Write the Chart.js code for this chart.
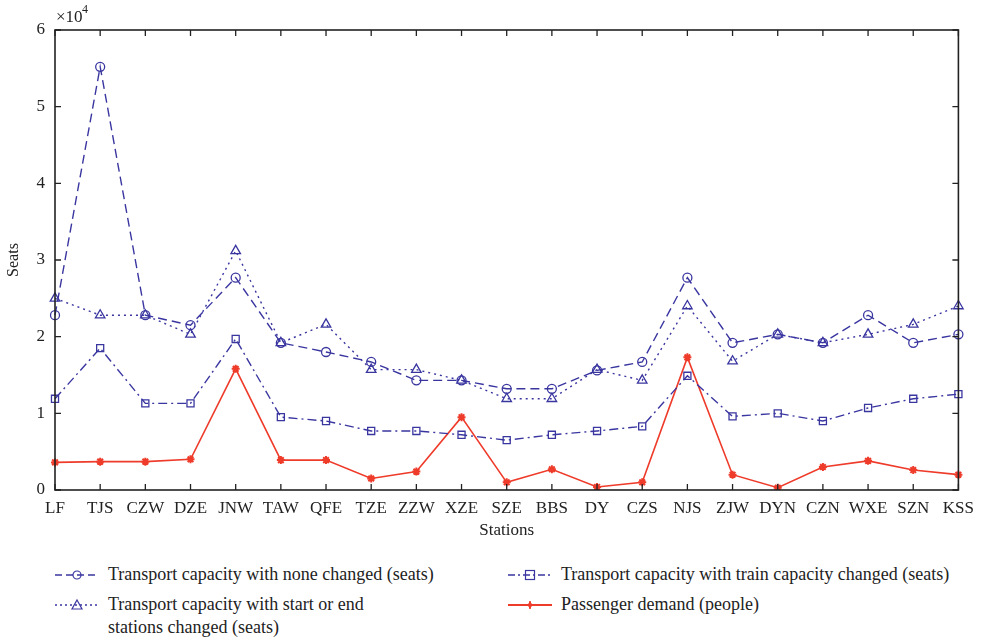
<!DOCTYPE html>
<html>
<head>
<meta charset="utf-8">
<script src="https://cdn.jsdelivr.net/npm/chart.js@4/dist/chart.umd.min.js"></script>
<style>
  body { margin: 0; background: #fff; font-family: "Liberation Serif", "Times New Roman", "DejaVu Serif", serif; }
  #wrap { position: relative; width: 982px; height: 640px; }
  #legend { position: absolute; left: 0; top: 558px; width: 982px; height: 82px; color: #222; font-size: 18px; }
  .item { position: absolute; display: flex; align-items: flex-start; }
  .item svg { margin-top: 3px; margin-right: 9px; }
</style>
</head>
<body>
<div id="wrap">
  <canvas id="chart" width="982" height="545"></canvas>
  <div id="legend"></div>
</div>
<script>
// stations on the x axis
const stations = ['LF', 'TJS', 'CZW', 'DZE', 'JNW', 'TAW', 'QFE', 'TZE', 'ZZW', 'XZE', 'SZE',
  'BBS', 'DY', 'CZS', 'NJS', 'ZJW', 'DYN', 'CZN', 'WXE', 'SZN', 'KSS'];

// seats, none changed
const noneChanged = [22800, 55200, 22800, 21500, 27700, 19200, 18000, 16700, 14300, 14300, 13200,
  13200, 15600, 16700, 27700, 19200, 20300, 19200, 22800, 19200, 20300];
// seats, start or end stations changed
const startEndChanged = [25000, 22800, 22800, 20300, 31200, 19200, 21600, 15700, 15700, 14300, 11900,
  11900, 15700, 14300, 24000, 16800, 20300, 19200, 20300, 21600, 24000];
// seats, train capacity changed
const trainCapChanged = [11900, 18500, 11300, 11300, 19700, 9500, 9000, 7700, 7700, 7200, 6500,
  7200, 7700, 8300, 14900, 9600, 10000, 9000, 10700, 11900, 12500];
// passenger demand (people)
const demand = [3600, 3700, 3700, 4000, 15800, 3900, 3900, 1500, 2400, 9500, 1000,
  2700, 400, 1000, 17300, 2000, 300, 3000, 3800, 2600, 2000];

const yTicks = [0, 1, 2, 3, 4, 5, 6]; // ×10^4

const blue = '#3a36a0';
const red = '#ee3b2a';
const ink = '#222';
const serif = '"Liberation Serif", "Times New Roman", "DejaVu Serif", serif';

// box frame with inward ticks, plus the x10^4 multiplier
const framePlugin = {
  id: 'frame',
  afterDraw(chart) {
    const { ctx, chartArea: a, scales } = chart;
    ctx.save();
    ctx.strokeStyle = ink;
    ctx.lineWidth = 1.6;
    ctx.strokeRect(a.left, a.top, a.right - a.left, a.bottom - a.top);
    ctx.lineWidth = 1.3;
    const len = 6;
    scales.x.ticks.forEach((t, i) => {
      const x = scales.x.getPixelForTick(i);
      ctx.beginPath();
      ctx.moveTo(x, a.bottom); ctx.lineTo(x, a.bottom - len);
      ctx.moveTo(x, a.top); ctx.lineTo(x, a.top + len);
      ctx.stroke();
    });
    scales.y.ticks.forEach((t, i) => {
      const y = scales.y.getPixelForTick(i);
      ctx.beginPath();
      ctx.moveTo(a.left, y); ctx.lineTo(a.left + len, y);
      ctx.moveTo(a.right, y); ctx.lineTo(a.right - len, y);
      ctx.stroke();
    });
    ctx.fillStyle = ink;
    ctx.font = '17px ' + serif;
    ctx.textBaseline = 'alphabetic';
    ctx.fillText('\u00d710', a.left + 1, a.top - 8);
    ctx.font = '12px ' + serif;
    ctx.fillText('4', a.left + 27, a.top - 17);
    ctx.restore();
  }
};

new Chart(document.getElementById('chart'), {
  type: 'line',
  data: {
    labels: stations,
    datasets: [
      {
        label: 'Transport capacity with none changed (seats)',
        data: noneChanged,
        borderColor: blue, backgroundColor: 'transparent',
        borderWidth: 1.4, borderDash: [9, 5],
        pointStyle: 'circle', pointRadius: 4.5, pointBorderWidth: 1.3, pointBackgroundColor: 'transparent'
      },
      {
        label: 'Transport capacity with start or end stations changed (seats)',
        data: startEndChanged,
        borderColor: blue, backgroundColor: 'transparent',
        borderWidth: 1.4, borderDash: [2, 4],
        pointStyle: 'triangle', pointRadius: 5.5, pointBorderWidth: 1.3, pointBackgroundColor: 'transparent'
      },
      {
        label: 'Transport capacity with train capacity changed (seats)',
        data: trainCapChanged,
        borderColor: blue, backgroundColor: 'transparent',
        borderWidth: 1.4, borderDash: [9, 4, 2, 4],
        pointStyle: 'rect', pointRadius: 5, pointBorderWidth: 1.3, pointBackgroundColor: 'transparent'
      },
      {
        label: 'Passenger demand (people)',
        data: demand,
        borderColor: red, backgroundColor: red,
        borderWidth: 1.6,
        pointStyle: 'star', pointRadius: 4, pointBorderWidth: 2, pointBackgroundColor: red
      }
    ]
  },
  options: {
    responsive: false,
    animation: false,
    layout: { padding: { top: 30, right: 17, left: 0, bottom: 0 } },
    plugins: { legend: { display: false }, tooltip: { enabled: false } },
    scales: {
      x: {
        type: 'category',
        offset: false,
        grid: { display: false, drawTicks: false },
        border: { display: false },
        ticks: { color: ink, font: { family: serif, size: 17 }, padding: 8, maxRotation: 0, autoSkip: false },
        title: { display: true, text: 'Stations', color: ink, font: { family: serif, size: 17 }, padding: { top: 6 } },
        afterFit(s) { s.height = 55; }
      },
      y: {
        min: 0, max: 60000,
        grid: { display: false, drawTicks: false },
        border: { display: false },
        afterBuildTicks(s) { s.ticks = yTicks.map(v => ({ value: v * 10000 })); },
        ticks: {
          color: ink, font: { family: serif, size: 17 }, padding: 10,
          callback: v => String(v / 10000)
        },
        title: { display: true, text: 'Seats', color: ink, font: { family: serif, size: 16 }, padding: { bottom: 8 } },
        afterFit(s) { s.width = 55; }
      }
    }
  },
  plugins: [framePlugin]
});

// legend below the chart
const legendItems = [
  { text: 'Transport capacity with none changed (seats)', x: 55, y: 5, dash: '7 4', marker: 'circle', color: blue },
  { text: 'Transport capacity with train capacity changed (seats)', x: 508, y: 5, dash: '7 3 2 3', marker: 'rect', color: blue },
  { text: 'Transport capacity with start or end<br>stations changed (seats)', x: 55, y: 35, dash: '2 3', marker: 'triangle', color: blue },
  { text: 'Passenger demand (people)', x: 508, y: 35, dash: '', marker: 'star', color: red }
];
const markerSvg = (m, c) => {
  if (m === 'circle') return `<circle cx="22" cy="9" r="4" fill="none" stroke="${c}" stroke-width="1.2"/>`;
  if (m === 'rect') return `<rect x="17.5" y="4.5" width="9" height="9" fill="none" stroke="${c}" stroke-width="1.2"/>`;
  if (m === 'triangle') return `<path d="M22 4 L27 13 L17 13 Z" fill="none" stroke="${c}" stroke-width="1.2"/>`;
  return `<path d="M22 5 L23 8 L26 9 L23 10 L22 13 L21 10 L18 9 L21 8 Z" fill="${c}" stroke="${c}" stroke-width="1"/>`;
};
const legend = document.getElementById('legend');
legendItems.forEach(it => {
  const d = document.createElement('div');
  d.className = 'item';
  d.style.left = it.x + 'px';
  d.style.top = it.y + 'px';
  const lw = it.marker === 'star' ? 2 : 1.3;
  d.innerHTML = `<svg width="44" height="18"><line x1="0" y1="9" x2="44" y2="9" stroke="${it.color}" stroke-width="${lw}" ${it.dash ? `stroke-dasharray="${it.dash}"` : ''}/>${markerSvg(it.marker, it.color)}</svg><span style="line-height:23px">${it.text}</span>`;
  legend.appendChild(d);
});
</script>
</body>
</html>
